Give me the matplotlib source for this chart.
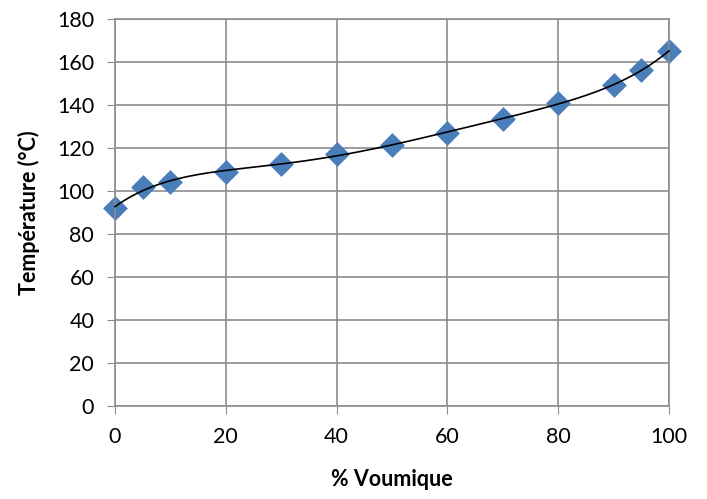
import numpy as np
import matplotlib.pyplot as plt

# Données
pct_vol = [0, 5, 10, 20, 30, 40, 50, 60, 70, 80, 90, 95, 100]
temperature = [92, 101.7, 104.4, 108.7, 112.6, 117, 121.6, 127.1, 133.4, 140.8, 149.4, 156.2, 165.1]
x_ticks = [0, 20, 40, 60, 80, 100]
y_ticks = [0, 20, 40, 60, 80, 100, 120, 140, 160, 180]

plt.rcParams['font.family'] = ['Lato', 'DejaVu Sans']

fig = plt.figure(figsize=(7.07, 4.99), dpi=100)
ax = fig.add_axes([115 / 707, (499 - 406) / 499, (669 - 115) / 707, (406 - 19) / 499])

# Courbe de tendance polynomiale
coef = np.polyfit(pct_vol, temperature, 5)
xs = np.linspace(0, 100, 300)
ax.plot(xs, np.polyval(coef, xs), color='black', lw=1.2, zorder=3, clip_on=False)

ax.scatter(pct_vol, temperature, marker='D', s=160, color='#4a7ebb', zorder=2,
           linewidths=0, clip_on=False)

ax.set_xlim(0, 100)
ax.set_ylim(0, 180)
ax.set_xticks(x_ticks)
ax.set_yticks(y_ticks)
ax.grid(True, color='#8c8c8c', lw=1.2)
ax.set_axisbelow(True)
for s in ax.spines.values():
    s.set_color('#8c8c8c')
    s.set_linewidth(1.2)
ax.tick_params(direction='out', length=6, color='#8c8c8c', labelsize=15.5, pad=9)

ax.set_xlabel('% Voumique', fontsize=15.5, fontweight='bold', labelpad=16)
ax.set_ylabel('Température (°C)', fontsize=15.5, fontweight='bold', labelpad=12)

fig.savefig('out.png', dpi=100)
